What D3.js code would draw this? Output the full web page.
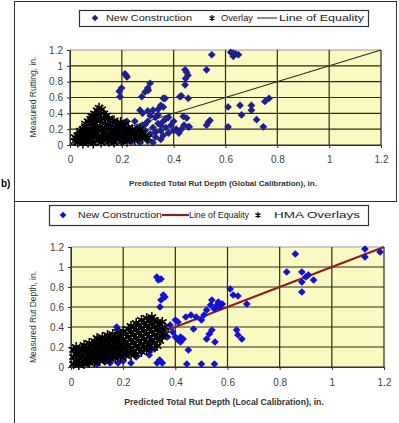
<!DOCTYPE html>
<html>
<head>
<meta charset="utf-8">
<script src="https://cdn.jsdelivr.net/npm/d3@7"></script>
<style>
  body { margin: 0; background: #fff; }
  svg { display: block; font-family: "Liberation Sans", Arial, sans-serif; }
</style>
</head>
<body>
<svg id="chart" width="399" height="423"></svg>
<script>
const xTicks = [0, 0.2, 0.4, 0.6, 0.8, 1, 1.2];
const yTicks = [0, 0.2, 0.4, 0.6, 0.8, 1, 1.2];
const equality = [[0, 0], [1.2, 1.2]];

// top chart: global calibration
const globalNew = [
  [0.216, 0.88], [0.22, 0.86], [0.212, 0.9], [0.199, 0.72], [0.193, 0.61], [0.19, 0.68],
  [0.309, 0.78], [0.302, 0.69], [0.29, 0.67], [0.277, 0.61], [0.3, 0.72], [0.36, 0.59],
  [0.27, 0.44], [0.28, 0.4], [0.3, 0.43], [0.32, 0.44], [0.34, 0.45], [0.35, 0.5], [0.36, 0.48],
  [0.367, 0.59], [0.424, 0.61], [0.43, 0.62],
  [0.444, 0.95], [0.455, 0.88], [0.446, 0.84], [0.444, 0.76], [0.45, 0.92], [0.456, 0.59],
  [0.437, 0.36], [0.45, 0.34], [0.456, 0.23], [0.527, 0.95], [0.547, 1.14],
  [0.63, 1.16], [0.64, 1.15], [0.63, 1.12], [0.65, 1.14], [0.62, 1.17],
  [0.534, 0.29], [0.527, 0.25], [0.54, 0.31],
  [0.61, 0.48], [0.61, 0.23], [0.656, 0.5], [0.662, 0.38], [0.70, 0.5], [0.70, 0.44],
  [0.72, 0.32], [0.752, 0.55], [0.768, 0.59], [0.746, 0.23],
  [0.16, 0.05], [0.18, 0.1], [0.2, 0.03], [0.21, 0.15], [0.22, 0.08], [0.23, 0.2], [0.24, 0.05],
  [0.25, 0.12], [0.26, 0.22], [0.27, 0.03], [0.28, 0.1], [0.28, 0.25], [0.29, 0.18], [0.3, 0.05],
  [0.3, 0.3], [0.31, 0.14], [0.32, 0.22], [0.32, 0.03], [0.33, 0.35], [0.33, 0.1], [0.34, 0.27],
  [0.35, 0.18], [0.35, 0.07], [0.36, 0.3], [0.36, 0.12], [0.37, 0.22], [0.38, 0.35], [0.38, 0.15],
  [0.39, 0.25], [0.4, 0.3], [0.4, 0.18], [0.41, 0.2], [0.42, 0.15], [0.43, 0.2], [0.44, 0.25],
  [0.46, 0.23], [0.37, 0.33], [0.22, 0.3], [0.2, 0.25], [0.18, 0.28], [0.25, 0.3], [0.34, 0.38],
  [0.19, 0.18], [0.24, 0.15], [0.26, 0.06], [0.29, 0.26], [0.31, 0.37], [0.33, 0.16], [0.35, 0.25]
];
const globalOverlay = [
  [0.02, 0.05], [0.02, 0.1], [0.025, 0.08], [0.03, 0.03], [0.03, 0.12], [0.035, 0.07],
  [0.04, 0.15], [0.04, 0.05], [0.045, 0.1], [0.04, 0.18], [0.05, 0.02], [0.05, 0.08],
  [0.055, 0.13], [0.05, 0.2], [0.06, 0.05], [0.06, 0.1], [0.065, 0.17], [0.06, 0.24],
  [0.06, 0.27], [0.07, 0.03], [0.07, 0.12], [0.075, 0.2], [0.07, 0.3], [0.08, 0.06],
  [0.08, 0.15], [0.085, 0.23], [0.08, 0.33], [0.085, 0.36], [0.09, 0.02], [0.09, 0.1],
  [0.095, 0.19], [0.09, 0.28], [0.095, 0.4], [0.1, 0.05], [0.1, 0.14], [0.105, 0.24],
  [0.1, 0.33], [0.105, 0.44], [0.11, 0.08], [0.11, 0.18], [0.115, 0.3], [0.11, 0.38],
  [0.112, 0.47], [0.12, 0.03], [0.12, 0.12], [0.125, 0.22], [0.12, 0.35], [0.122, 0.45],
  [0.13, 0.06], [0.13, 0.16], [0.135, 0.27], [0.13, 0.4], [0.14, 0.1], [0.14, 0.2],
  [0.145, 0.32], [0.14, 0.37], [0.15, 0.04], [0.15, 0.14], [0.155, 0.25], [0.15, 0.34],
  [0.16, 0.08], [0.16, 0.19], [0.165, 0.29], [0.17, 0.03], [0.17, 0.12], [0.175, 0.22],
  [0.17, 0.31], [0.18, 0.07], [0.18, 0.16], [0.185, 0.26], [0.19, 0.1], [0.19, 0.2],
  [0.195, 0.29], [0.2, 0.05], [0.2, 0.14], [0.205, 0.24], [0.21, 0.09], [0.21, 0.18],
  [0.215, 0.27], [0.22, 0.04], [0.22, 0.13], [0.225, 0.22], [0.23, 0.08], [0.23, 0.16],
  [0.24, 0.11], [0.24, 0.2], [0.25, 0.06], [0.25, 0.14], [0.26, 0.1], [0.26, 0.18],
  [0.27, 0.13], [0.27, 0.2], [0.28, 0.08], [0.28, 0.16], [0.29, 0.12], [0.3, 0.09],
  [0.065, 0.08], [0.085, 0.12], [0.1, 0.22], [0.125, 0.08], [0.135, 0.33], [0.155, 0.11],
  [0.165, 0.16], [0.18, 0.22], [0.2, 0.1], [0.115, 0.42], [0.09, 0.33], [0.145, 0.06]
];

// bottom chart: local calibration
const localNew = [
  [0.04, 0.03], [0.07, 0.04], [0.1, 0.03], [0.13, 0.05], [0.15, 0.04], [0.18, 0.04],
  [0.2, 0.06], [0.23, 0.04], [0.25, 0.1], [0.27, 0.15], [0.29, 0.2], [0.3, 0.12],
  [0.31, 0.25], [0.32, 0.18], [0.33, 0.04], [0.34, 0.07], [0.35, 0.04], [0.3, 0.17], [0.175, 0.4],
  [0.329, 0.9], [0.335, 0.87], [0.345, 0.88], [0.354, 0.72], [0.345, 0.67], [0.341, 0.6], [0.36, 0.7],
  [0.37, 0.3], [0.38, 0.42], [0.4, 0.47], [0.41, 0.45], [0.4, 0.3], [0.41, 0.27], [0.42, 0.25],
  [0.42, 0.3], [0.39, 0.35], [0.43, 0.28], [0.44, 0.5], [0.46, 0.52], [0.47, 0.38], [0.48, 0.5],
  [0.5, 0.47], [0.51, 0.52], [0.52, 0.57], [0.535, 0.62], [0.54, 0.67], [0.565, 0.65], [0.57, 0.6],
  [0.55, 0.58], [0.56, 0.62], [0.58, 0.63], [0.52, 0.28], [0.53, 0.33], [0.54, 0.37], [0.552, 0.25],
  [0.45, 0.17], [0.444, 0.03], [0.5, 0.03], [0.55, 0.03],
  [0.61, 0.78], [0.622, 0.72], [0.64, 0.71], [0.674, 0.63], [0.635, 0.37], [0.64, 0.32], [0.655, 0.28],
  [0.827, 0.95], [0.86, 1.13], [0.885, 0.95], [0.885, 0.85], [0.885, 0.75], [0.91, 0.92],
  [0.93, 0.87], [0.9, 0.9], [1.127, 1.18], [1.127, 1.1], [1.185, 1.15]
];
const localOverlay = [
  [0.01, 0.03], [0.01, 0.1], [0.01, 0.17], [0.02, 0.06], [0.02, 0.13], [0.02, 0.2],
  [0.03, 0.02], [0.03, 0.09], [0.03, 0.16], [0.04, 0.05], [0.04, 0.12], [0.04, 0.19],
  [0.05, 0.03], [0.05, 0.1], [0.05, 0.17], [0.05, 0.22], [0.06, 0.07], [0.06, 0.14], [0.06, 0.2],
  [0.07, 0.04], [0.07, 0.11], [0.07, 0.18], [0.07, 0.24], [0.08, 0.08], [0.08, 0.15], [0.08, 0.22],
  [0.09, 0.05], [0.09, 0.12], [0.09, 0.19], [0.09, 0.26], [0.1, 0.09], [0.1, 0.16], [0.1, 0.23],
  [0.1, 0.29], [0.11, 0.06], [0.11, 0.13], [0.11, 0.2], [0.11, 0.27], [0.12, 0.1], [0.12, 0.17],
  [0.12, 0.24], [0.12, 0.3], [0.13, 0.07], [0.13, 0.14], [0.13, 0.21], [0.13, 0.28], [0.14, 0.11],
  [0.14, 0.18], [0.14, 0.25], [0.14, 0.32], [0.15, 0.08], [0.15, 0.15], [0.15, 0.22], [0.15, 0.29],
  [0.16, 0.12], [0.16, 0.19], [0.16, 0.26], [0.16, 0.33], [0.17, 0.09], [0.17, 0.16], [0.17, 0.23],
  [0.17, 0.3], [0.18, 0.13], [0.18, 0.2], [0.18, 0.27], [0.18, 0.35], [0.19, 0.1], [0.19, 0.17],
  [0.19, 0.24], [0.19, 0.31], [0.2, 0.14], [0.2, 0.21], [0.2, 0.28], [0.2, 0.36], [0.21, 0.11],
  [0.21, 0.18], [0.21, 0.25], [0.21, 0.33], [0.22, 0.15], [0.22, 0.22], [0.22, 0.3], [0.22, 0.38],
  [0.23, 0.12], [0.23, 0.19], [0.23, 0.27], [0.23, 0.35], [0.23, 0.41], [0.24, 0.16], [0.24, 0.24],
  [0.24, 0.32], [0.24, 0.4], [0.25, 0.13], [0.25, 0.21], [0.25, 0.29], [0.25, 0.37], [0.25, 0.44],
  [0.26, 0.18], [0.26, 0.26], [0.26, 0.34], [0.26, 0.42], [0.27, 0.15], [0.27, 0.23], [0.27, 0.31],
  [0.27, 0.39], [0.27, 0.47], [0.28, 0.2], [0.28, 0.28], [0.28, 0.36], [0.28, 0.44], [0.29, 0.17],
  [0.29, 0.25], [0.29, 0.33], [0.29, 0.41], [0.29, 0.49], [0.3, 0.22], [0.3, 0.3], [0.3, 0.38],
  [0.3, 0.46], [0.31, 0.19], [0.31, 0.27], [0.31, 0.35], [0.31, 0.43], [0.31, 0.5], [0.32, 0.24],
  [0.32, 0.32], [0.32, 0.4], [0.32, 0.47], [0.33, 0.21], [0.33, 0.29], [0.33, 0.37], [0.33, 0.45],
  [0.34, 0.26], [0.34, 0.34], [0.34, 0.42], [0.35, 0.3], [0.35, 0.38], [0.35, 0.45], [0.36, 0.33],
  [0.36, 0.4]
];

const svg = d3.select("#chart");

// panel frames
svg.append("rect").attr("x", 14.5).attr("y", 1.5).attr("width", 382).attr("height", 200)
  .attr("fill", "none").attr("stroke", "#333").attr("stroke-width", 1);
svg.append("line").attr("x1", 14.5).attr("x2", 14.5).attr("y1", 201).attr("y2", 423)
  .attr("stroke", "#333");
svg.append("text").attr("x", 1).attr("y", 187)
  .style("font-size", "10px").style("font-weight", "bold").text("b)");

function drawPanel(cfg) {
  const x = d3.scaleLinear().domain([0, 1.2]).range(cfg.xRange);
  const y = d3.scaleLinear().domain([0, 1.2]).range(cfg.yRange);
  const g = svg.append("g");

  g.append("rect")
    .attr("x", x(0)).attr("y", y(1.2))
    .attr("width", x(1.2) - x(0)).attr("height", y(0) - y(1.2))
    .attr("fill", "#fbf9c2");

  g.selectAll(".hgrid").data(yTicks).enter().append("line")
    .attr("x1", x(0)).attr("x2", x(1.2))
    .attr("y1", d => y(d)).attr("y2", d => y(d))
    .attr("stroke", d => d === 1.2 ? "#999" : "#2a2a1a").attr("stroke-width", 1.2);
  g.selectAll(".vgrid").data(xTicks).enter().append("line")
    .attr("x1", d => x(d)).attr("x2", d => x(d))
    .attr("y1", y(0)).attr("y2", y(1.2))
    .attr("stroke", "#2a2a1a").attr("stroke-width", 1.2);

  const xAxis = g.append("g").attr("transform", `translate(0,${y(0)})`)
    .call(d3.axisBottom(x).tickValues(xTicks).tickSize(3).tickPadding(cfg.xPad).tickFormat(d3.format("")));
  const yAxis = g.append("g").attr("transform", `translate(${x(0)},0)`)
    .call(d3.axisLeft(y).tickValues(yTicks).tickSize(3).tickPadding(4).tickFormat(d3.format("")));
  [xAxis, yAxis].forEach(a => {
    a.select(".domain").attr("stroke", "#333");
    a.selectAll(".tick line").attr("stroke", "#333");
    a.selectAll("text").style("font-size", "10px").style("fill", "#444")
      .style("font-family", "'Liberation Sans', Arial, sans-serif");
  });

  const line = d3.line().x(d => x(d[0])).y(d => y(d[1]));
  g.append("path").datum(equality).attr("d", line)
    .attr("fill", "none").attr("stroke", cfg.lineColor).attr("stroke-width", cfg.lineWidth);

  const diamond = d3.symbol(d3.symbolSquare, 30);
  const star = d3.symbol(d3.symbolAsterisk, 70);

  g.selectAll(".newc").data(cfg.newData).enter().append("path")
    .attr("d", diamond)
    .attr("transform", d => `translate(${x(d[0])},${y(d[1])}) rotate(45)`)
    .attr("fill", cfg.dotColor);

  g.selectAll(".over").data(cfg.overlayData).enter().append("path")
    .attr("d", star)
    .attr("transform", d => `translate(${x(d[0])},${y(d[1])})`)
    .attr("fill", "none").attr("stroke", "#000").attr("stroke-width", 1.5);

  // axis titles
  g.append("text").attr("x", cfg.xTitlePos[0]).attr("y", cfg.xTitlePos[1])
    .attr("text-anchor", "middle").style("font-size", cfg.xTitleSize)
    .style("font-weight", "bold").style("fill", "#333").text(cfg.xTitle);
  g.append("text").attr("transform", `translate(${cfg.yTitlePos[0]},${cfg.yTitlePos[1]}) rotate(-90)`)
    .attr("text-anchor", "middle").style("font-size", "8.5px")
    .style("fill", "#333").text(cfg.yTitle);

  // legend
  const lg = g.append("g");
  const [lx, ly, lw, lh] = cfg.legendBox;
  lg.append("rect").attr("x", lx + 0.5).attr("y", ly + 0.5).attr("width", lw).attr("height", lh)
    .attr("fill", "#fff").attr("stroke", "#333").attr("stroke-width", 1.2);
  const cy = ly + lh / 2;
  cfg.legendItems.forEach(it => {
    if (it.kind === "diamond") {
      lg.append("path").attr("d", d3.symbol(d3.symbolSquare, 22))
        .attr("transform", `translate(${it.mx},${cy}) rotate(45)`).attr("fill", cfg.dotColor);
    } else if (it.kind === "star") {
      lg.append("path").attr("d", d3.symbol(d3.symbolAsterisk, 24))
        .attr("transform", `translate(${it.mx},${cy})`)
        .attr("fill", "none").attr("stroke", "#000").attr("stroke-width", 1.2);
    } else {
      lg.append("line").attr("x1", it.mx).attr("x2", it.mx2).attr("y1", cy).attr("y2", cy)
        .attr("stroke", cfg.lineColor).attr("stroke-width", cfg.lineWidth);
    }
    lg.append("text").attr("x", it.tx).attr("y", cy + 3.3)
      .attr("textLength", it.tw).attr("lengthAdjust", "spacingAndGlyphs")
      .style("font-size", "9.5px").style("fill", "#222").text(it.label);
  });
}

drawPanel({
  xRange: [70, 381], yRange: [145, 50], xPad: 8,
  newData: globalNew, overlayData: globalOverlay,
  dotColor: "#1f1f8f", lineColor: "#2d2d1d", lineWidth: 1.1,
  xTitle: "Predicted Total Rut Depth (Global Calibration), in.",
  xTitleSize: "8px", xTitlePos: [223, 185.5],
  yTitle: "Measured Rutting, in.", yTitlePos: [36, 97],
  legendBox: [79, 10, 289, 16],
  legendItems: [
    { kind: "diamond", mx: 95, tx: 106, tw: 86, label: "New Construction" },
    { kind: "star", mx: 212, tx: 221, tw: 32, label: "Overlay" },
    { kind: "line", mx: 257, mx2: 277, tx: 279, tw: 85, label: "Line of Equality" }
  ]
});

drawPanel({
  xRange: [71, 384], yRange: [367, 247], xPad: 9,
  newData: localNew, overlayData: localOverlay,
  dotColor: "#1212d4", lineColor: "#8e1e1e", lineWidth: 2.2,
  xTitle: "Predicted Total Rut Depth (Local Calibration), in.",
  xTitleSize: "8.7px", xTitlePos: [224, 405],
  yTitle: "Measured Rut Depth, in.", yTitlePos: [36, 317],
  legendBox: [49, 205, 319, 20],
  legendItems: [
    { kind: "diamond", mx: 63, tx: 78, tw: 84, label: "New Construction" },
    { kind: "line", mx: 162, mx2: 189, tx: 189, tw: 60, label: "Line of Equality" },
    { kind: "star", mx: 258, tx: 274, tw: 86, label: "HMA Overlays" }
  ]
});
</script>
</body>
</html>
